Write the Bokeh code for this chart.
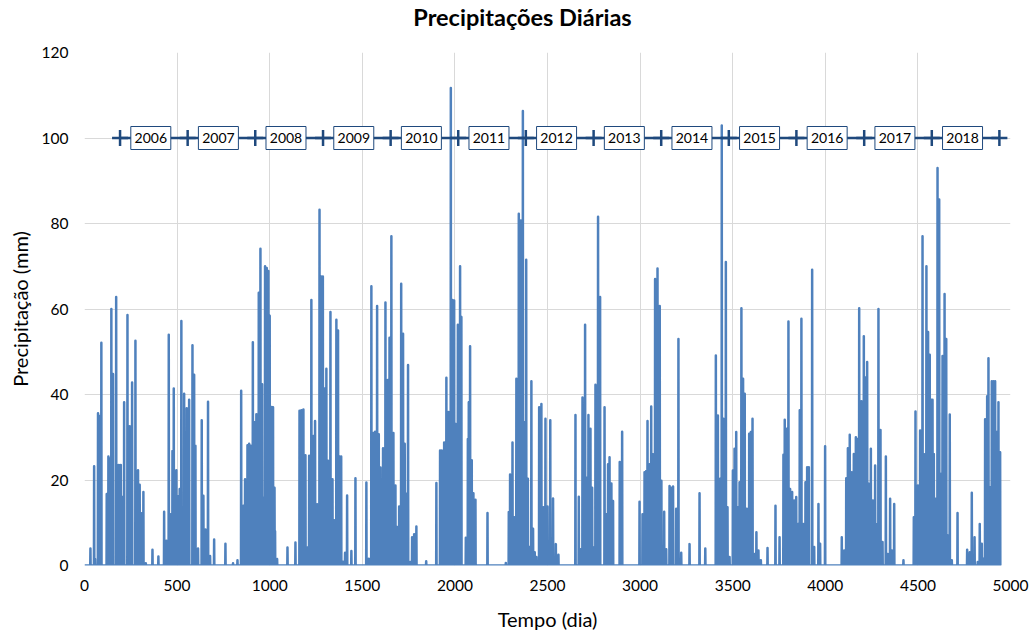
import numpy as np
from bokeh.plotting import figure
from bokeh.layouts import column
from bokeh.models import Range1d, FixedTicker
from bokeh.core.properties import value
from bokeh.embed import file_html
from bokeh.resources import INLINE

# Rainy days (day index since start of record) and daily precipitation (mm)
wet_day = [
    32, 52, 57, 73, 80, 91, 120, 129, 137, 145, 154, 171, 178, 185, 196, 205, 214, 232, 244, 257,
    275, 289, 298, 307, 318, 331, 367, 399,
    430, 442, 455, 466, 475, 482, 496, 505, 514, 523, 538, 552, 565, 583, 592, 599, 613, 633, 642,
    653, 667, 678, 700, 761, 802, 826,
    846, 858, 867, 880, 889, 898, 909, 918, 928, 941, 950, 959, 968, 975, 984, 993, 1000, 1011,
    1018, 1026, 1029, 1040, 1096, 1139,
    1161, 1171, 1182, 1193, 1204, 1213, 1225, 1236, 1245, 1256, 1269, 1278, 1287, 1296, 1306, 1315,
    1328, 1339, 1348, 1360, 1369, 1378, 1386, 1396, 1407, 1418, 1441, 1463,
    1522, 1535, 1549, 1560, 1569, 1580, 1589, 1598, 1605, 1612, 1625, 1638, 1647, 1657, 1668, 1679,
    1688, 1699, 1710, 1720, 1729, 1737, 1747, 1758, 1769, 1780, 1792, 1845,
    1900, 1920, 1929, 1942, 1954, 1965, 1978, 1987, 1996, 2005, 2016, 2028, 2035, 2059, 2070, 2075,
    2082, 2091, 2100, 2111, 2176, 2275,
    2291, 2298, 2311, 2322, 2332, 2345, 2356, 2367, 2376, 2385, 2394, 2403, 2413, 2422, 2431, 2440,
    2455, 2467, 2478, 2489, 2500, 2515, 2530, 2545, 2559,
    2651, 2669, 2680, 2689, 2703, 2710, 2721, 2732, 2741, 2750, 2759, 2773, 2784, 2808, 2818, 2827,
    2835, 2845, 2854, 2890, 2903,
    2997, 3013, 3024, 3033, 3040, 3051, 3060, 3070, 3081, 3094, 3106, 3115, 3130, 3141, 3159, 3168,
    3178, 3195, 3207, 3222, 3267, 3321, 3352,
    3409, 3420, 3429, 3432, 3441, 3450, 3463, 3472, 3483, 3501, 3510, 3519, 3528, 3537, 3547, 3556,
    3565, 3576, 3589, 3598, 3607, 3618, 3628, 3639, 3652, 3688,
    3731, 3753, 3774, 3781, 3792, 3801, 3810, 3821, 3832, 3843, 3853, 3862, 3871, 3882, 3893, 3902,
    3911, 3929, 3940, 3963, 3972, 3999,
    4089, 4102, 4113, 4122, 4132, 4143, 4154, 4165, 4172, 4183, 4195, 4208, 4217, 4226, 4235, 4246,
    4257, 4269, 4280, 4287, 4298, 4309, 4327, 4338, 4350, 4360, 4372, 4422,
    4478, 4487, 4500, 4512, 4525, 4534, 4546, 4555, 4564, 4573, 4579, 4586, 4595, 4606, 4615, 4624,
    4633, 4644, 4653, 4662, 4672, 4683, 4714, 4766, 4780, 4791, 4806, 4823, 4834, 4845, 4854, 4863,
    4874, 4881, 4890, 4899, 4908, 4917, 4926, 4935, 4944,
]
wet_mm = [
    4.0, 23.2, 1.5, 35.6, 35.0, 52.1, 16.7, 25.5, 25.0, 60.0, 44.8, 62.8, 23.5, 23.5, 23.5, 16.0, 38.2, 58.6, 32.6, 42.8,
    52.6, 22.3, 18.9, 12.2, 17.2, 0.5, 3.7, 2.1,
    12.6, 5.8, 54.0, 12.0, 26.8, 41.4, 22.3, 16.2, 17.9, 57.2, 40.2, 36.8, 38.8, 51.5, 44.6, 28.0, 4.0, 34.0, 16.3,
    8.4, 38.3, 2.2, 6.1, 5.1, 0.5, 1.2,
    40.9, 14.0, 20.2, 28.1, 28.5, 28.0, 52.2, 33.5, 35.4, 63.8, 74.1, 42.4, 15.9, 70.0, 69.6, 68.9, 58.4, 37.1,
    37.0, 18.2, 8.0, 1.5, 4.2, 5.4,
    36.2, 36.3, 36.5, 25.8, 4.2, 25.7, 62.1, 30.3, 33.8, 14.3, 83.2, 67.6, 67.6, 41.4, 46.0, 24.5,
    59.3, 20.2, 10.6, 57.5, 55.0, 25.5, 25.5, 0.9, 3.0, 16.4, 3.4, 20.4,
    19.4, 1.6, 65.3, 31.0, 31.3, 60.7, 30.7, 22.9, 6.2, 27.4, 61.5, 43.4, 53.3, 77.0, 31.0, 18.7,
    9.0, 13.8, 65.9, 54.2, 28.5, 16.8, 46.9, 0.8, 6.6, 7.3, 9.1, 1.0,
    19.3, 26.9, 26.9, 28.8, 43.9, 35.9, 111.7, 62.1, 62.0, 33.1, 56.3, 70.0, 58.1, 6.5, 29.6, 38.2,
    51.3, 24.6, 16.9, 15.4, 12.3, 0.6,
    12.5, 21.3, 28.8, 11.3, 43.7, 82.3, 80.7, 106.3, 33.5, 71.5, 20.3, 4.3, 43.1, 8.6, 3.1, 2.0,
    37.0, 37.8, 13.6, 34.3, 13.8, 34.0, 15.7, 5.0, 2.5,
    35.2, 16.1, 3.8, 39.3, 56.3, 20.6, 35.2, 32.0, 18.2, 4.2, 42.3, 81.6, 62.8, 37.0, 12.0, 23.7,
    25.3, 19.2, 15.1, 24.2, 31.3,
    14.9, 12.0, 21.8, 22.1, 33.8, 23.7, 37.2, 26.0, 67.0, 69.5, 60.7, 19.8, 12.6, 3.8, 18.6, 18.2,
    18.5, 13.3, 53.0, 3.0, 5.0, 16.9, 4.0,
    49.1, 35.1, 14.0, 20.3, 102.9, 34.3, 71.0, 13.6, 2.0, 22.2, 27.3, 31.2, 13.6, 19.5, 60.2, 43.7,
    40.2, 13.3, 30.8, 31.2, 34.3, 2.7, 7.8, 3.5, 1.2, 4.1,
    14.0, 6.6, 25.9, 34.1, 32.0, 57.1, 17.9, 17.2, 15.2, 16.0, 9.7, 36.3, 57.7, 9.7, 19.5, 23.0,
    23.0, 69.2, 4.3, 14.4, 5.1, 27.9,
    6.6, 3.5, 20.4, 27.4, 30.6, 21.8, 26.1, 30.0, 29.6, 60.2, 38.4, 53.6, 44.0, 47.6, 19.1, 27.3,
    15.2, 23.4, 9.7, 60.0, 31.7, 5.5, 25.5, 2.7, 15.6, 3.5, 14.4, 1.2,
    11.3, 36.0, 18.7, 31.6, 77.0, 26.0, 70.0, 54.6, 49.3, 38.8, 38.8, 26.1, 15.6, 93.0, 85.6, 21.4,
    49.0, 63.5, 53.0, 7.0, 35.3, 1.2, 12.3, 3.7, 3.1, 17.0, 6.6, 0.8, 9.7, 5.1, 1.6, 34.2,
    39.6, 48.5, 18.3, 43.1, 43.1, 43.1, 31.2, 38.2, 26.5,
]
n_days = 4946  # length of the daily record

# First day of each calendar year on the day axis, and the year names
year_start_day = [192, 557, 922, 1288, 1653, 2018, 2383, 2749, 3114, 3479, 3844, 4210, 4575, 4940]
year_label = ["2006", "2007", "2008", "2009", "2010", "2011", "2012",
              "2013", "2014", "2015", "2016", "2017", "2018"]
year_line_level = 100

x_ticks = list(range(0, 5001, 500))
y_ticks = list(range(0, 121, 20))

# Full daily series: dry days are zero
days = np.arange(n_days)
rain = np.zeros(n_days)
rain[wet_day] = wet_mm

FONT = "Lato"
BLUE = "#4F81BD"
DARK = "#1F497D"
W = 1036
HEAD_H = 40

# Title strip: a bare canvas in pixel-like coordinates (y grows downward)
head = figure(width=W, height=HEAD_H, output_backend="svg", toolbar_location=None,
              x_range=Range1d(0, W), y_range=Range1d(HEAD_H, 0),
              x_axis_type=None, y_axis_type=None,
              min_border_left=0, min_border_right=0, min_border_top=0, min_border_bottom=0)
head.outline_line_color = None
head.background_fill_color = "white"
head.border_fill_color = "white"
head.text([490], [16], text=["Precipitações Diárias"], text_align="center",
          text_baseline="middle", text_font=value(FONT), text_font_size="23.5px",
          text_font_style="bold", text_color="black")

p = figure(width=W, height=635 - HEAD_H, output_backend="svg", toolbar_location=None,
           x_range=Range1d(0, 5000), y_range=Range1d(0, 120),
           min_border_left=84, min_border_right=26, min_border_top=52 - HEAD_H,
           min_border_bottom=70)
p.outline_line_color = None
p.background_fill_color = "white"
p.border_fill_color = "white"

for ax, ticks in ((p.xaxis, x_ticks), (p.yaxis, y_ticks)):
    ax.ticker = FixedTicker(ticks=ticks)
    ax.axis_line_color = None
    ax.major_tick_line_color = None
    ax.minor_tick_line_color = None
    ax.major_tick_in = 0
    ax.major_tick_out = 0
    ax.major_label_text_font = FONT
    ax.major_label_text_font_size = "15.5px"
    ax.major_label_text_color = "black"
    ax.axis_label_text_font = FONT
    ax.axis_label_text_font_size = "20px"
    ax.axis_label_text_font_style = "normal"
    ax.axis_label_text_color = "black"

p.xaxis.axis_label = "Tempo (dia)"
p.yaxis.axis_label = "Precipitação (mm)"
p.xaxis.major_label_standoff = 14
p.yaxis.major_label_standoff = 16
p.xaxis.axis_label_standoff = 13
p.yaxis.axis_label_standoff = 7

p.grid.grid_line_color = "#D9D9D9"
p.grid.grid_line_width = 1

# Daily precipitation
p.line(days, rain, line_color=BLUE, line_width=2.5, line_join="round")

# Year boundaries drawn as a marked line at a fixed level
yl = [year_line_level] * len(year_start_day)
p.line(year_start_day, yl, line_color=DARK, line_width=2.5)
p.scatter(year_start_day, yl, marker="cross", size=16, line_color=DARK, line_width=2.5)

label_x = [d + 166 for d in year_start_day[:-1]]
ly = [year_line_level] * len(label_x)
p.rect(label_x, ly, width=40, height=23, width_units="screen", height_units="screen",
       fill_color="white", line_color=DARK, line_width=1)
p.text(label_x, ly, text=year_label, text_align="center", text_baseline="middle",
       text_font=value(FONT), text_font_size="14px", text_color="black")

layout = column(head, p, spacing=0)
open("out.html", "w").write(file_html(layout, INLINE))
